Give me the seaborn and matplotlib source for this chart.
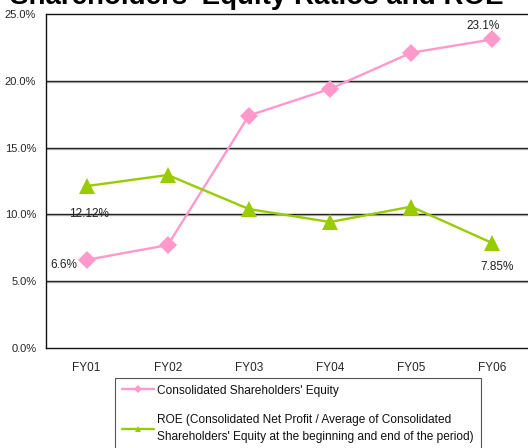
import matplotlib
matplotlib.use("Agg")
import matplotlib.pyplot as plt
import seaborn as sns
import pandas as pd
import numpy as np
from matplotlib.lines import Line2D
from matplotlib.ticker import FixedLocator, FuncFormatter

years = ["FY01", "FY02", "FY03", "FY04", "FY05", "FY06"]
equity_ratio = [6.6, 7.7, 17.4, 19.4, 22.1, 23.1]
roe = [12.12, 12.95, 10.4, 9.43, 10.58, 7.85]

equity_label = "Consolidated Shareholders' Equity"
roe_label = ("ROE (Consolidated Net Profit / Average of Consolidated\n"
             "Shareholders' Equity at the beginning and end of the period)")
title = "Shareholders' Equity Ratios and ROE"

pink = "#FF99CC"
green = "#99CC00"

sns.set_style("white")
plt.rcParams["font.family"] = ["Liberation Sans", "DejaVu Sans"]

W, H = 528, 448
fig = plt.figure(figsize=(W / 100, H / 100), dpi=100)
ax = fig.add_axes([46 / W, 1 - 348 / H, (533 - 46) / W, (348 - 14) / H])

df = pd.DataFrame({"year": years, "equity": equity_ratio, "roe": roe})
x = np.arange(len(years))

sns.lineplot(x=x, y=df["equity"], ax=ax, color=pink, lw=1.7,
             marker="D", markersize=9, markeredgewidth=0, zorder=4)
sns.lineplot(x=x, y=df["roe"], ax=ax, color=green, lw=1.7,
             marker="^", markersize=12, markeredgewidth=0, zorder=4)

ax.set_xlim(-0.5, len(years) - 0.5)
ax.set_ylim(0, 25)
ax.set_xticks(x)
ax.set_xticklabels(years)
ax.xaxis.set_minor_locator(FixedLocator(x[:-1] + 0.5))
ax.tick_params(axis="x", which="major", length=0, labelsize=8.5, pad=10)
ax.tick_params(axis="x", which="minor", length=3, direction="in",
               color="#222222", width=0.8)
ax.set_yticks(np.arange(0, 26, 5))
ax.yaxis.set_major_formatter(FuncFormatter(lambda v, p: f"{v:.1f}%"))
ax.tick_params(axis="y", length=0, labelsize=8, pad=7)
ax.set_xlabel("")
ax.set_ylabel("")

for yv in [5, 10, 15, 20]:
    ax.axhline(yv - 0.07, color="#c0c0c0", lw=1.0, zorder=1)
    ax.axhline(yv, color="#222222", lw=1.0, zorder=2)

for side in ["left", "bottom", "top"]:
    ax.spines[side].set_visible(True)
    ax.spines[side].set_color("#111111")
    ax.spines[side].set_linewidth(1.0)
ax.spines["right"].set_visible(False)

# value labels at the first and last years
lab = dict(fontsize=8.5, color="#222222")
ax.annotate(f"{equity_ratio[0]}%", (x[0], equity_ratio[0]), xytext=(-7, -4),
            textcoords="offset points", ha="right", va="center", **lab)
ax.annotate(f"{roe[0]:.2f}%", (x[0], roe[0]), xytext=(2, -20),
            textcoords="offset points", ha="center", va="center", **lab)
ax.annotate(f"{equity_ratio[-1]}%", (x[-1], equity_ratio[-1]), xytext=(-6.5, 9.5),
            textcoords="offset points", ha="center", va="center", **lab)
ax.annotate(f"{roe[-1]:.2f}%", (x[-1], roe[-1]), xytext=(3.6, -17.5),
            textcoords="offset points", ha="center", va="center", **lab)

fig.text(10 / W, 1 - 4.5 / H, title, fontsize=20, fontweight="bold",
         va="baseline", ha="left", color="#000000")

handles = [
    Line2D([], [], color=pink, lw=1.7, marker="D", markersize=4,
           markeredgewidth=0),
    Line2D([], [], color=green, lw=1.7, marker="^", markersize=5,
           markeredgewidth=0),
]
leg = fig.legend(handles, [equity_label, roe_label],
                 loc="upper left", bbox_to_anchor=(115 / W, 1 - 378 / H),
                 fontsize=8.6, frameon=True, fancybox=False, framealpha=1,
                 edgecolor="#555555", labelspacing=1.5, handlelength=2.7,
                 handletextpad=0.3, borderpad=0.55, borderaxespad=0)
leg.get_frame().set_linewidth(0.8)
for t in leg.get_texts():
    t.set_color("#111111")
    t.set_linespacing(1.45)

fig.savefig("out.png", dpi=100)
